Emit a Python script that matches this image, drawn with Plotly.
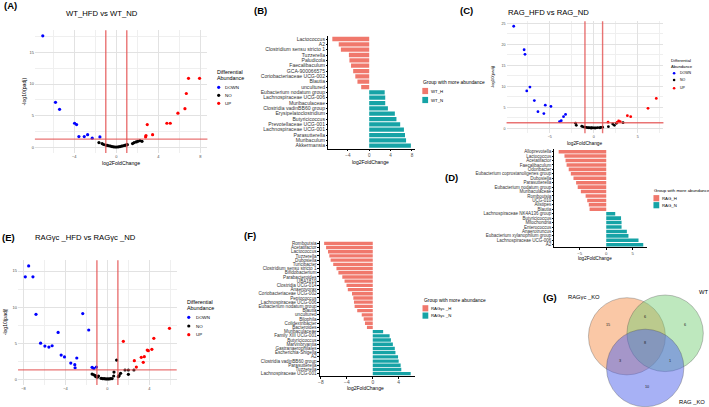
import plotly.graph_objects as go

W, H = 709, 407
FONT = "Liberation Sans"
SALMON = "#F0786C"
TEAL = "#16A3A6"

# ---------------- data ----------------
FC_CUT = 1.0
PADJ_LINE = 1.301  # -log10(0.05)

# (A) WT_HFD vs WT_ND
a_down_x = [-7.0, -5.79, -5.4, -3.97, -3.78, -3.56, -3.05, -2.73, -2.29, -1.56]
a_down_y = [17.6, 7.1, 6.0, 3.8, 3.6, 1.7, 1.7, 2.0, 1.45, 1.65]
a_no_x = [-1.65, -1.35, -1.2, -1.0, -0.85, -0.7, -0.55, -0.4, -0.25, -0.1, 0.05, 0.2,
          0.35, 0.5, 0.65, 0.8, 0.95, 1.05, 1.55, 1.7, 1.9, 2.05, 2.25, 2.45]
a_no_y = [0.75, 0.6, 0.45, 0.35, 0.3, 0.25, 0.2, 0.12, 0.08, 0.05, 0.05, 0.08,
          0.12, 0.18, 0.25, 0.3, 0.38, 0.42, 0.6, 0.75, 0.85, 0.95, 1.05, 0.95]
a_up_x = [7.93, 6.88, 6.67, 6.54, 5.87, 5.14, 4.82, 2.95, 3.46, 2.83, 2.79]
a_up_y = [10.9, 10.9, 8.5, 6.1, 5.4, 3.8, 3.8, 3.6, 2.0, 1.85, 1.65]

# (C) RAG_HFD vs RAG_ND
c_down_x = [-9.08, -7.9, -7.8, -7.24, -7.6, -6.74, -6.33, -5.66, -5.5, -4.86, -3.88, -3.69, -3.43, -3.2]
c_down_y = [24.3, 18.7, 17.6, 9.8, 8.9, 6.6, 3.95, 3.5, 5.5, 5.2, 1.6, 1.8, 2.77, 3.3]
c_no_x = [-2.07, -1.98, -1.36, -1.2, -1.0, -0.85, -0.7, -0.55, -0.4, -0.3, -0.25, -0.1,
          0.05, 0.15, 0.25, 0.45, 0.7, 0.8, 1.0, 1.66, 2.15, 2.34, 2.57, 3.32]
c_no_y = [1.19, 0.7, 0.48, 0.35, 0.25, 0.2, 0.15, 0.12, 0.1, 0.05, 0.12, 0.08,
          0.1, 0.05, 0.1, 0.15, 0.12, 0.2, 0.25, 0.38, 1.02, 0.71, 1.19, 1.33]
c_up_x = [1.62, 2.65, 2.82, 3.0, 3.81, 4.19, 6.15, 7.09]
c_up_y = [1.45, 1.4, 1.75, 1.6, 3.0, 2.77, 4.76, 7.1]

# (E) RAGyc_HFD vs RAGyc_ND
e_down_x = [-7.51, -7.83, -7.1, -6.81, -6.37, -5.96, -5.58, -5.27, -4.7, -4.41, -4.09,
            -3.49, -3.11, -3.08, -2.92, -2.35, -1.78, -1.46, -1.3, -1.05]
e_down_y = [15.7, 14.2, 14.2, 9.0, 5.0, 4.6, 4.47, 4.65, 6.5, 3.35, 3.1,
            2.25, 2.03, 1.6, 2.95, 9.1, 6.83, 1.66, 1.5, 1.7]
e_no_x = [-1.46, -1.3, -1.15, -1.05, -0.95, -1.1, -0.85, -0.6, -0.45, -0.3, -0.15, 0.0,
          0.15, 0.3, 0.45, 0.6, 0.63, 0.88, 1.04, 1.12, 1.26, 1.68, 2.0, 2.0, 2.53]
e_no_y = [0.73, 0.62, 0.52, 0.42, 0.3, 0.35, 0.45, 0.13, 0.08, 0.08, 0.05, 0.05,
          0.05, 0.08, 0.1, 0.46, 1.0, 2.67, 0.36, 0.5, 0.83, 1.29, 1.29, 0.69, 1.29]
e_up_x = [5.92, 4.43, 4.24, 3.9, 3.8, 3.52, 3.23, 3.42, 2.57, 2.76, 1.52]
e_up_y = [7.06, 5.68, 4.15, 3.96, 4.05, 3.13, 3.05, 2.35, 2.58, 1.7, 5.26]

# (B) WT
b_taxa = ["Lactococcus", "A2", "Clostridium sensu stricto 1", "Tuzzerella", "Paludicola",
          "Faecalibaculum", "GCA-900066575", "Coriobacteriaceae UCG-002", "Blautia", "uncultured",
          "Eubacterium nodatum group", "Lachnospiraceae UCG-006", "Muribaculaceae",
          "Clostridia vadinBB60 group", "Erysipelatoclostridium", "Butyricicoccus",
          "Prevotellaceae UCG-001", "Lachnospiraceae UCG-001", "Parasutterella", "Muribaculum",
          "Akkermansia"]
b_lfc = [-6.9, -5.7, -5.3, -3.8, -3.7, -3.4, -3.0, -2.6, -2.2, -1.5,
         2.9, 3.0, 3.0, 3.5, 4.8, 5.1, 5.8, 6.5, 6.7, 6.9, 7.8]

# (D) RAG
d_taxa = ["Alloprevotella", "Lactococcus", "Acetatifactor", "Faecalibaculum", "Odoribacter",
          "Eubacterium coprostanoligenes group", "Dubosiella", "Parasutterella",
          "Eubacterium nodatum group", "Muribaculaceae", "Romboutsia", "UCG-010", "Alistipes",
          "Blautia", "Lachnospiraceae NK4A136 group", "Butyricicoccus", "Mitochondria",
          "Enterococcus", "Anaerotruncus", "Eubacterium xylanophilum group",
          "Lachnospiraceae UCG-006", "A2"]
d_lfc = [-9.0, -7.9, -7.7, -7.5, -7.1, -6.7, -6.2, -5.7, -5.4, -4.8, -3.9, -3.6, -3.3, -3.15,
         1.7, 2.8, 2.9, 2.9, 3.9, 4.2, 6.1, 7.0]

# (F) RAGyc
f_taxa = ["Romboutsia", "Acetatifactor", "Lactococcus", "Tuzzerella", "Dubosiella", "Turicibacter",
          "Clostridium sensu stricto 1", "Bifidobacterium", "Parabacteroides", "UBA1819",
          "Clostridia UCG-014", "Anaerovorax", "Coriobacteriaceae UCG-002", "Peptococcus",
          "Lachnospiraceae UCG-006", "Eubacterium nodatum group", "Blautia", "uncultured",
          "Bilophila", "Colidextribacter", "Bacteroides", "Muribaculaceae", "Family XIII UCG-001",
          "Butyricicoccus", "Marvinbryantia", "Gastranaerophilales", "Escherichia-Shigella", "A2",
          "Clostridia vadinBB60 group", "Parasutterella", "Tuzzerella", "Lachnospiraceae UCG-001"]
f_lfc = [-7.5, -7.2, -6.9, -6.7, -6.5, -6.1, -5.6, -5.3, -4.7, -4.35, -4.05, -3.85, -3.2, -3.0,
         -2.9, -2.8, -2.4, -1.7, -1.4, -1.2, -0.9,
         1.6, 2.6, 2.8, 3.1, 3.4, 3.5, 3.9, 4.0, 4.3, 4.4, 5.85]

# (G) Venn
venn_sets = ["RAGγc _KO", "WT", "RAG _KO"]
venn_counts = [15, 6, 6, 8, 3, 1, 10]  # RAGγc only, RAGγc∩WT, WT only, all, RAGγc∩RAG, WT∩RAG, RAG only

# ---------------- helpers ----------------
def pxx(x):
    return x / W

def pxy(y):
    return 1 - y / H

fig = go.Figure()
layout = dict(width=W, height=H, margin=dict(l=0, r=0, t=0, b=0),
              paper_bgcolor="white", plot_bgcolor="rgba(0,0,0,0)",
              showlegend=False, font=dict(family=FONT), shapes=[], annotations=[])

GRID_MAJ = "#E2E2E2"
GRID_MIN = "#EFEFEF"


def volcano(n, dom_x, dom_y, xr, yr, xdt, ydt, dx, dy, nx, ny, ux, uy, ms, tfs):
    ax = "" if n == 1 else str(n)
    for xs, ys, c in [(dx, dy, "blue"), (nx, ny, "black"), (ux, uy, "red")]:
        fig.add_trace(go.Scatter(x=xs, y=ys, mode="markers", xaxis="x" + ax, yaxis="y" + ax,
                                 marker=dict(size=ms, color=c, line=dict(width=0)),
                                 hoverinfo="skip"))
    layout["xaxis" + ax] = dict(domain=[pxx(dom_x[0]), pxx(dom_x[1])], range=xr, dtick=xdt, tick0=0,
                                showgrid=True, gridcolor=GRID_MAJ, gridwidth=0.8, zeroline=False,
                                showline=False, ticks="", anchor="y" + ax,
                                tickfont=dict(size=tfs, color="#4D4D4D"),
                                minor=dict(dtick=xdt / 2, showgrid=True, gridcolor=GRID_MIN, gridwidth=0.5))
    layout["yaxis" + ax] = dict(domain=[pxy(dom_y[1]), pxy(dom_y[0])], range=yr, dtick=ydt, tick0=0,
                                showgrid=True, gridcolor=GRID_MAJ, gridwidth=0.8, zeroline=False,
                                showline=False, ticks="", anchor="x" + ax,
                                tickfont=dict(size=tfs, color="#4D4D4D"),
                                minor=dict(dtick=ydt / 2, showgrid=True, gridcolor=GRID_MIN, gridwidth=0.5))
    lc = "rgba(228,80,80,0.8)"
    for xv in (-FC_CUT, FC_CUT):
        layout["shapes"].append(dict(type="line", xref="x" + ax, yref="y" + ax + " domain",
                                     x0=xv, x1=xv, y0=0, y1=1, line=dict(color=lc, width=1.4)))
    layout["shapes"].append(dict(type="line", xref="x" + ax + " domain", yref="y" + ax,
                                 x0=0, x1=1, y0=PADJ_LINE, y1=PADJ_LINE, line=dict(color=lc, width=1.4)))


def hbar(n, dom_x, dom_y, xr, tickvals, taxa, vals, lfs, tfs):
    ax = str(n)
    idx = list(range(len(taxa)))
    cols = [SALMON if v < 0 else TEAL for v in vals]
    fig.add_trace(go.Bar(x=vals, y=idx, orientation="h", width=0.8, xaxis="x" + ax, yaxis="y" + ax,
                         marker=dict(color=cols, line=dict(width=0)), hoverinfo="skip"))
    layout["xaxis" + ax] = dict(domain=[pxx(dom_x[0]), pxx(dom_x[1])], range=xr, tickvals=tickvals,
                                showgrid=False, zeroline=False, showline=True, linecolor="black",
                                linewidth=0.7, ticks="outside", ticklen=1.5, tickwidth=0.6,
                                tickcolor="black", anchor="y" + ax,
                                tickfont=dict(size=tfs, color="#4D4D4D"))
    layout["yaxis" + ax] = dict(domain=[pxy(dom_y[1]), pxy(dom_y[0])],
                                range=[len(taxa) - 1 + 0.6, -0.6], tickvals=idx, ticktext=taxa,
                                showgrid=False, zeroline=False, showline=True, linecolor="black",
                                linewidth=0.7, ticks="outside", ticklen=1.5, tickwidth=0.6,
                                tickcolor="black", anchor="x" + ax,
                                tickfont=dict(size=lfs, color="#333333"))


def txt(x, y, s, size, color="black", xanchor="center", bold=False, angle=0):
    if bold:
        s = "<b>" + s + "</b>"
    layout["annotations"].append(dict(x=x, y=y, xref="x7", yref="y7", text=s, showarrow=False,
                                      font=dict(size=size, color=color, family=FONT),
                                      xanchor=xanchor, yanchor="middle", textangle=angle,
                                      borderpad=0))


# ---------------- panels ----------------
volcano(1, (33, 206), (30.3, 152.9), [-7.75, 8.68], [-0.88, 18.48], 4, 5,
        a_down_x, a_down_y, a_no_x, a_no_y, a_up_x, a_up_y, 3.2, 4)
volcano(3, (506, 663.3), (21.2, 133.3), [-9.89, 7.9], [-1.2, 25.5], 5, 5,
        c_down_x, c_down_y, c_no_x, c_no_y, c_up_x, c_up_y, 2.8, 3.6)
volcano(5, (16.1, 175.2), (260.2, 385), [-8.52, 6.61], [-0.79, 16.5], 4, 5,
        e_down_x, e_down_y, e_no_x, e_no_y, e_up_x, e_up_y, 3.2, 4)

hbar(2, (327.3, 414), (35.8, 148.9), [-7.64, 8.54], [-4, 0, 4, 8], b_taxa, b_lfc, 5.1, 4.6)
hbar(4, (554, 647.3), (149, 247.4), [-9.8, 7.8], [-5, 0, 5], d_taxa, d_lfc, 4.5, 4.3)
hbar(6, (318.7, 414.2), (240.8, 376.2), [-8.17, 6.52], [-8, -4, 0, 4], f_taxa, f_lfc, 4.6, 4.9)

# overlay pixel axis
layout["xaxis7"] = dict(domain=[0, 1], range=[0, W], visible=False, anchor="y7", fixedrange=True)
layout["yaxis7"] = dict(domain=[0, 1], range=[H, 0], visible=False, anchor="x7", fixedrange=True)

# titles
txt(100, 13.3, "WT_HFD vs WT_ND", 7.7)
txt(548.3, 12.7, "RAG_HFD vs RAG_ND", 7.7)
txt(83.7, 237.7, "RAGγc _HFD vs RAGγc _ND", 7.7)

# panel labels
for lab, x, y in [("(A)", 9, 5.5), ("(B)", 259.7, 10.3), ("(C)", 466, 10.3), ("(D)", 450.3, 177),
                  ("(E)", 6.2, 237.8), ("(F)", 248.7, 235), ("(G)", 550, 297.5)]:
    txt(x, y, lab, 9.5, bold=True)

# axis titles
txt(119.5, 162.5, "log2FoldChange", 5.2)
txt(22, 91.5, "-log10(padj)", 5.2, angle=-90)
txt(585, 143, "log2FoldChange", 4.8)
txt(491.5, 77, "-log10(padj)", 4.2, angle=-90)
txt(3.2, 322, "-log10(padj)", 5.0, angle=-90)
txt(370, 161.5, "log2FoldChange", 5.0)
txt(594.3, 258.8, "log2FoldChange", 4.6)
txt(365, 388, "log2FoldChange", 5.0)

# volcano legends
for (tx, ty1, ty2, mx, tx2, ys, fs_t, fs_i, ms) in [
        (215, 71.7, 78.3, 217.3, 223, (87.3, 95.3, 103.3), 5.4, 4.4, 3.2),
        (670, 60, 66.3, 674, 679, (73.3, 80, 88.3), 4.2, 3.5, 2.6),
        (185, 301.7, 308.3, 187.3, 193.3, (317.3, 326, 334.7), 5.4, 4.4, 3.2)]:
    txt(tx, ty1, "Differential", fs_t, xanchor="left")
    txt(tx, ty2, "Abundance", fs_t, xanchor="left")
    for lab, col, yy in zip(["DOWN", "NO", "UP"], ["blue", "black", "red"], ys):
        fig.add_trace(go.Scatter(x=[mx], y=[yy], mode="markers", xaxis="x7", yaxis="y7",
                                 marker=dict(size=ms, color=col), hoverinfo="skip"))
        txt(tx2, yy, lab, fs_i, xanchor="left")

# bar legends
for (x0, ty, tfs, items) in [(421.5, 82.7, 4.9, [("WT_H", 91), ("WT_N", 100)]),
                             (653.3, 190, 4.4, [("RAG_H", 198.2), ("RAG_N", 205.2)]),
                             (421.7, 300.7, 4.9, [("RAGγc _H", 308.3), ("RAGγc _N", 315.6)])]:
    txt(x0, ty, "Group with more abundance", tfs, xanchor="left")
    for (lab, yy), col in zip(items, [SALMON, TEAL]):
        layout["shapes"].append(dict(type="rect", xref="x7", yref="y7", x0=x0, x1=x0 + 5.8,
                                     y0=yy - 3.1, y1=yy + 3.1, fillcolor=col, line=dict(width=0)))
        txt(x0 + 8, yy, lab, 4.3, xanchor="left")

# Venn (G)
venn_geom = [((626.7, 336.3), 38.6, "rgba(244,140,70,0.48)"),
             ((665.0, 333.3), 38.3, "rgba(110,205,110,0.45)"),
             ((645.0, 368.0), 38.8, "rgba(80,100,235,0.5)")]
for (cx, cy), r, fc in venn_geom:
    layout["shapes"].append(dict(type="circle", xref="x7", yref="y7", x0=cx - r, x1=cx + r,
                                 y0=cy - r, y1=cy + r, fillcolor=fc,
                                 line=dict(color="rgba(70,70,70,0.55)", width=0.6)))
venn_label_pos = [(584, 296.7), (703, 291.7), (691.7, 401.7)]
for name, (x, y) in zip(venn_sets, venn_label_pos):
    txt(x, y, name, 5.8)
venn_count_pos = [(607.3, 325), (645, 317.3), (685, 325), (645, 342.7), (619.3, 360.7),
                  (670, 360.7), (647.3, 387.3)]
for cnt, (x, y) in zip(venn_counts, venn_count_pos):
    txt(x, y, str(cnt), 3.8, color="#222222")

fig.update_layout(**layout)
fig.write_html("out.html")
